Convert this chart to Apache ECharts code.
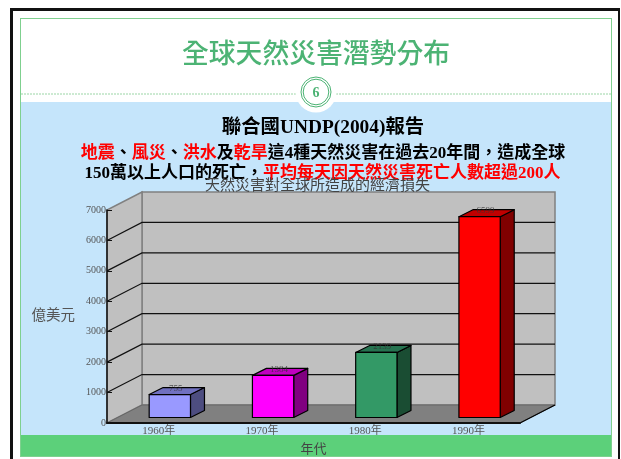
<!DOCTYPE html>
<html>
<head>
<meta charset="utf-8">
<style>html,body{margin:0;padding:0;background:#fff}#c{width:621px;height:459px}</style>
<script src="https://cdn.jsdelivr.net/npm/echarts@6/dist/echarts.min.js"></script>
</head>
<body>
<div id="c"></div>
<script>
const categories = ['1960年', '1970年', '1980年', '1990年'];
const values = [755, 1384, 2139, 6599];
const yTicks = [0, 1000, 2000, 3000, 4000, 5000, 6000, 7000];
const frontColors = ['#9999FF', '#FF00FF', '#339966', '#FF0000'];
const sideColors = ['#4D4D80', '#800080', '#1A4D33', '#800000'];
const topColors = ['#7070C0', '#C000C0', '#267350', '#C00000'];
const pageTitle = '全球天然災害潛勢分布';
const pageNumber = '6';
const heading = '聯合國UNDP(2004)報告';
const line1 = [['r','地震'],['k','、'],['r','風災'],['k','、'],['r','洪水'],['k','及'],['r','乾旱'],['k','這4種天然災害在過去20年間，造成全球']];
const line2 = [['k','150萬以上人口的死亡，'],['r','平均每天因天然災害死亡人數超過200人']];
const chartTitle = '天然災害對全球所造成的經濟損失';
const yName = '億美元';
const xName = '年代';

const FONT = '"Liberation Serif","Noto Sans CJK TC",serif';
const DX = 35, DY = -18;          // depth of the 3D box
const BAR_DX = 14, BAR_DY = -7;   // depth of a bar
const BAR_OFF_X = 11.2, BAR_OFF_Y = -5.5; // gap between front edge and bar
const rich = a => a.map(p => `{${p[0]}|${p[1]}}`).join('');
const lineRich = {
  r: { fill: '#FF0000', font: 'bold 17px ' + FONT },
  k: { fill: '#000000', font: 'bold 17px ' + FONT }
};
const chart = echarts.init(document.getElementById('c'), null, { renderer: 'canvas' });

function renderFrame(params, api) {
  const v = api.value(0);
  const cs = params.coordSys;
  const y = api.coord([0, v])[1];
  const xl = cs.x, xr = cs.x + cs.width;
  const children = [];
  if (params.dataIndex === 0) {
    const yT = cs.y;
    children.push(
      { type: 'polygon', shape: { points: [[xl + DX, yT + DY], [xr + DX, yT + DY], [xr + DX, y + DY], [xl + DX, y + DY]] },
        style: { fill: '#C0C0C0', stroke: '#808080', lineWidth: 1.5 } },
      { type: 'polygon', shape: { points: [[xl, y], [xl, yT], [xl + DX, yT + DY], [xl + DX, y + DY]] },
        style: { fill: '#C0C0C0', stroke: '#808080', lineWidth: 1.5 } },
      { type: 'polygon', shape: { points: [[xl, y], [xl + DX, y + DY], [xr + DX, y + DY], [xr, y]] },
        style: { fill: '#808080', stroke: '#666', lineWidth: 1 } },
      { type: 'line', shape: { x1: xr, y1: y, x2: xr + DX, y2: y + DY }, style: { stroke: '#000', lineWidth: 1.2 } }
    );
  } else if (params.dataIndex < yTicks.length - 1) {
    children.push({ type: 'polyline', shape: { points: [[xl, y], [xl + DX, y + DY], [xr + DX, y + DY]] },
      style: { fill: 'none', stroke: '#111', lineWidth: 1.2 } });
  }
  return { type: 'group', children };
}

function renderBar(params, api) {
  const i = api.value(0), v = api.value(1);
  const base = api.coord([i, 0]), top = api.coord([i, v]);
  const w = api.size([1, 0])[0] * 0.4;
  const xc = base[0] + BAR_OFF_X;
  const x0 = xc - w / 2, x1 = xc + w / 2;
  const yB = base[1] + BAR_OFF_Y, yT = top[1] + BAR_OFF_Y;
  const st = c => ({ fill: c, stroke: '#000', lineWidth: 1.2, lineJoin: 'round' });
  return { type: 'group', children: [
    { type: 'polygon', shape: { points: [[x1, yB], [x1 + BAR_DX, yB + BAR_DY], [x1 + BAR_DX, yT + BAR_DY], [x1, yT]] }, style: st(sideColors[i]) },
    { type: 'polygon', shape: { points: [[x0, yT], [x0 + BAR_DX, yT + BAR_DY], [x1 + BAR_DX, yT + BAR_DY], [x1, yT]] }, style: st(topColors[i]) },
    { type: 'rect', shape: { x: x0, y: yT, width: w, height: yB - yT }, style: st(frontColors[i]) },
    { type: 'text', x: xc + BAR_DX / 2 - 1, y: yT + BAR_DY / 2 - 2.5,
      style: { text: String(v), align: 'center', verticalAlign: 'middle', fill: '#333', font: '9px ' + FONT, opacity: 0.8 } }
  ] };
}

const box = (x, y, w, h, fill) => ({ type: 'rect', z: -10, shape: { x, y, width: w, height: h }, style: { fill } });
const label = (x, y, text, fill, font) => ({ type: 'text', z: 20, x, y, style: { text, fill, font, align: 'center', verticalAlign: 'middle' } });

chart.setOption({
  animation: false,
  backgroundColor: '#fff',
  grid: { left: 107, right: 101, top: 210, bottom: 36, containLabel: false, outerBoundsMode: 'none' },
  xAxis: {
    type: 'category', data: categories, z: 5,
    name: xName, nameLocation: 'middle', nameGap: 20,
    nameTextStyle: { color: '#444', fontFamily: FONT, fontSize: 13 },
    axisLine: { lineStyle: { color: '#111', width: 2 } },
    axisTick: { inside: true, length: 5, alignWithLabel: false, lineStyle: { color: '#111', width: 1 } },
    axisLabel: { color: '#555', fontFamily: FONT, fontSize: 11, margin: 3 },
    splitLine: { show: false }
  },
  yAxis: {
    type: 'value', min: 0, max: 7000, interval: 1000, z: 5,
    name: yName, nameLocation: 'middle', nameGap: 32, nameRotate: 0,
    nameTextStyle: { color: '#555', fontFamily: FONT, fontSize: 14.5, padding: [3, 0, 0, 0] },
    axisLine: { show: true, lineStyle: { color: '#111', width: 1.5 } },
    axisTick: { show: true, inside: true, length: 5, lineStyle: { color: '#111', width: 1 } },
    axisLabel: { color: '#555', fontFamily: FONT, fontSize: 10, margin: 1, formatter: v => String(v) },
    splitLine: { show: false }
  },
  series: [
    { type: 'custom', z: 1, silent: true, data: yTicks.map(t => [t]), encode: { y: 0 }, renderItem: renderFrame },
    { type: 'custom', z: 2, silent: true, data: values.map((v, i) => [i, v]), encode: { x: 0, y: 1 }, renderItem: renderBar }
  ],
  graphic: { elements: [
    box(10, 8, 610, 3, '#111'),
    box(10, 8, 3, 451, '#111'),
    box(618, 8, 2, 451, '#111'),
    box(20, 18, 592, 439, '#7FD08F'),
    box(21, 19, 590, 437, '#FFFFFF'),
    box(21, 102, 590, 333, '#C5E5FB'),
    box(21, 435, 590, 21, '#5CD07A'),
    { type: 'line', z: -9, shape: { x1: 21, y1: 94, x2: 611, y2: 94 }, style: { stroke: '#9AD5A5', lineWidth: 1, lineDash: [2, 1] } },
    { type: 'circle', z: -8, shape: { cx: 316, cy: 92, r: 20.5 }, style: { fill: '#FFFFFF' } },
    { type: 'circle', z: -7, shape: { cx: 316, cy: 92, r: 15 }, style: { fill: 'none', stroke: '#4CB374', lineWidth: 1 } },
    { type: 'circle', z: -7, shape: { cx: 316, cy: 92, r: 12.8 }, style: { fill: 'none', stroke: '#4CB374', lineWidth: 1 } },
    label(316, 93.5, pageNumber, '#4CB374', 'bold 14px ' + FONT),
    label(316, 56, pageTitle, '#4CB374', '500 26.8px ' + FONT),
    label(323, 128, heading, '#000', 'bold 19.4px ' + FONT),
    { type: 'text', z: 20, x: 323, y: 154, style: { text: rich(line1), rich: lineRich, align: 'center', verticalAlign: 'middle', font: 'bold 17px ' + FONT } },
    { type: 'text', z: 20, x: 322.5, y: 174, style: { text: rich(line2), rich: lineRich, align: 'center', verticalAlign: 'middle', font: 'bold 17px ' + FONT } },
    label(317.5, 186, chartTitle, '#444', '15px ' + FONT)
  ] }
});
</script>
</body>
</html>
